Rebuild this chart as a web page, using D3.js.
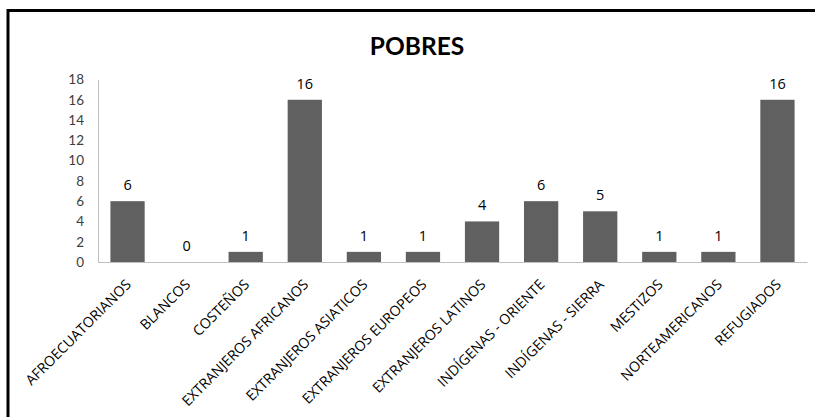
<!DOCTYPE html>
<html><head><meta charset="utf-8">
<script src="https://cdn.jsdelivr.net/npm/d3@7"></script>
<style>body{margin:0;background:#fff}svg{display:block}</style>
</head><body>
<script>
const categories = ["AFROECUATORIANOS","BLANCOS","COSTEÑOS","EXTRANJEROS AFRICANOS","EXTRANJEROS ASIATICOS","EXTRANJEROS EUROPEOS","EXTRANJEROS LATINOS","INDÍGENAS - ORIENTE","INDÍGENAS - SIERRA","MESTIZOS","NORTEAMERICANOS","REFUGIADOS"];
const values = [6,0,1,16,1,1,4,6,5,1,1,16];
const yTicks = [0,2,4,6,8,10,12,14,16,18];
const title = "POBRES";

const W = 815, H = 417;
const svg = d3.select("body").append("svg").attr("width", W).attr("height", H);
svg.append("rect").attr("width", W).attr("height", H).attr("fill", "#fff");
// frame
svg.append("path").attr("d", "M8,417 V10.5 H815").attr("fill","none").attr("stroke","#000").attr("stroke-width",3);

const font = "Lato, 'Open Sans', sans-serif";
const labFont = "'Open Sans', sans-serif";
const x = d3.scaleBand().domain(categories).range([98, 807]).paddingInner(0.42).paddingOuter(0.21);
const y = d3.scaleLinear().domain([0, 18]).range([262, 79.5]);

svg.append("text").attr("x", 417).attr("y", 55).attr("text-anchor","middle")
  .attr("font-family", font).attr("font-weight","bold").attr("font-size",24.5).attr("fill","#000").text(title);

// y axis
const ya = svg.append("g").attr("transform","translate(98,0)")
  .call(d3.axisLeft(y).tickValues(yTicks).tickSize(0).tickPadding(14));
ya.select(".domain").attr("stroke","#bfbfbf");
ya.selectAll("text").attr("font-family",font).attr("font-size",13.5).attr("fill","#404040");

// bars
svg.append("g").selectAll("rect").data(values).join("rect")
  .attr("x",(d,i)=>x(categories[i])).attr("width",x.bandwidth())
  .attr("y",d=>y(d)).attr("height",d=>y(0)-y(d)).attr("fill","#606060");

// x axis
const xa = svg.append("g").attr("transform",`translate(0,${y(0)})`)
  .call(d3.axisBottom(x).tickSize(0).tickSizeOuter(0));
xa.select(".domain").attr("stroke","#bfbfbf");
xa.selectAll("text").attr("font-family",labFont).attr("font-size",14.2).attr("fill","#000")
  .attr("text-anchor","end").attr("dy","0.35em")
  .attr("transform","translate(1,20) rotate(-45)").attr("y",0).attr("x",0);

// data labels
svg.append("g").selectAll("text").data(values).join("text")
  .attr("x",(d,i)=>x(categories[i])+x.bandwidth()/2).attr("y",d=>y(d)-11)
  .attr("text-anchor","middle").attr("font-family",labFont).attr("font-size",14.5).attr("fill","#000")
  .text(d=>d);
</script>
</body></html>
